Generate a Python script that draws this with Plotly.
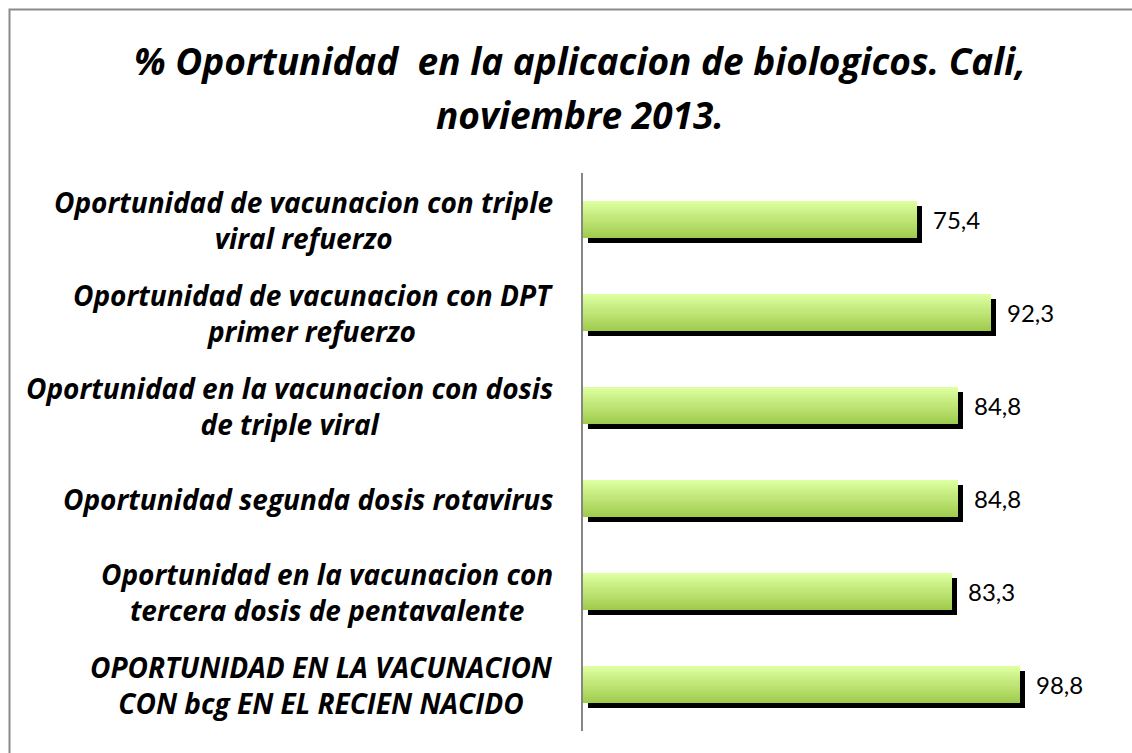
import numpy as np
import plotly.graph_objects as go

# Indicators, top to bottom, and their percentages
categories = [
    "Oportunidad de vacunacion con triple<br>viral refuerzo",
    "Oportunidad de vacunacion con DPT<br>primer refuerzo",
    "Oportunidad en la vacunacion con dosis<br>de triple viral",
    "Oportunidad segunda dosis rotavirus",
    "Oportunidad en la vacunacion con<br>tercera dosis de pentavalente",
    "OPORTUNIDAD EN LA VACUNACION<br>CON bcg EN EL RECIEN NACIDO",
]
values = [75.4, 92.3, 84.8, 84.8, 83.3, 98.8]
title_lines = ["% Oportunidad  en la aplicacion de biologicos. Cali,", "noviembre 2013."]

# Canvas and plot-area geometry (pixels)
W, H = 1132, 753
ML, MR, MT, MB = 583, 13, 173, 17
SHADOW = 5
PW, PH = W - ML - MR, H - MT - MB
dx, dy = SHADOW / PW, SHADOW / PH

def px_to_paper_x(px):
    return (px - ML) / PW

def px_to_paper_y(py):
    return (H - MB - py) / PH

BAR_W = 0.4
fig = go.Figure()

# Drop shadow: same bars on a copy of the axes shifted right and down
fig.add_bar(
    y=categories, x=values, orientation="h", width=BAR_W,
    marker=dict(color="#000000", line_width=0),
    xaxis="x", yaxis="y", hoverinfo="skip", showlegend=False,
)

# Green bars with a vertical light-to-dark gradient built from stacked bands
N = 18
top_rgb = np.array([222, 255, 160])
bot_rgb = np.array([160, 204, 78])
step = BAR_W / N
for i in range(N):
    t = i / (N - 1)
    r, g, b = (top_rgb + (bot_rgb - top_rgb) * t).round().astype(int)
    fig.add_bar(
        y=categories, x=values, orientation="h",
        width=BAR_W - i * step, offset=-BAR_W / 2 + i * step,
        marker=dict(color=f"rgb({r},{g},{b})", line_width=0),
        xaxis="x2", yaxis="y2", hoverinfo="skip", showlegend=False,
    )

axis_common = dict(showgrid=False, zeroline=False, fixedrange=True)
fig.update_layout(
    width=W, height=H,
    margin=dict(l=ML, r=MR, t=MT, b=MB, pad=0),
    paper_bgcolor="white", plot_bgcolor="rgba(0,0,0,0)",
    barmode="overlay", bargap=0,
    xaxis=dict(domain=[dx, 1], range=[0, 120], visible=False, anchor="y", **axis_common),
    yaxis=dict(domain=[0, 1 - dy], range=[5.5, -0.5], type="category",
               visible=False, anchor="x", **axis_common),
    xaxis2=dict(domain=[0, 1 - dx], range=[0, 120], visible=False, anchor="y2", **axis_common),
    yaxis2=dict(domain=[dy, 1], range=[5.5, -0.5], type="category", anchor="x2",
                showline=True, linecolor="#868686", linewidth=1.5,
                showticklabels=False, ticks="", **axis_common),
    showlegend=False,
)

annotations = []
label_font = dict(family="Open Sans", size=28, color="black", style="italic", weight="bold")
for cat in categories:
    annotations.append(dict(
        xref="paper", yref="y2", x=0, y=cat, xshift=-28,
        text=cat, showarrow=False, align="center",
        xanchor="right", yanchor="middle", font=label_font,
    ))
for cat, v in zip(categories, values):
    annotations.append(dict(
        xref="x2", yref="y2", x=v, y=cat, xshift=14,
        text=f"{v:.1f}".replace(".", ","), showarrow=False,
        xanchor="left", yanchor="middle",
        font=dict(family="Lato", size=24, color="black"),
    ))
title_font = dict(family="Open Sans", size=37, color="black", style="italic", weight="bold")
for line, cy in zip(title_lines, [60, 114]):
    annotations.append(dict(
        xref="paper", yref="paper", x=px_to_paper_x(580), y=px_to_paper_y(cy),
        text=line, showarrow=False, xanchor="center", yanchor="middle",
        font=title_font,
    ))
fig.update_layout(annotations=annotations)

# Chart frame
fig.add_shape(
    type="rect", xref="paper", yref="paper",
    x0=px_to_paper_x(9.5), x1=px_to_paper_x(W + 20),
    y0=px_to_paper_y(H + 20), y1=px_to_paper_y(9.5),
    line=dict(color="#8a8a8a", width=2), fillcolor="rgba(0,0,0,0)", layer="below",
)

fig.write_html("out.html")
